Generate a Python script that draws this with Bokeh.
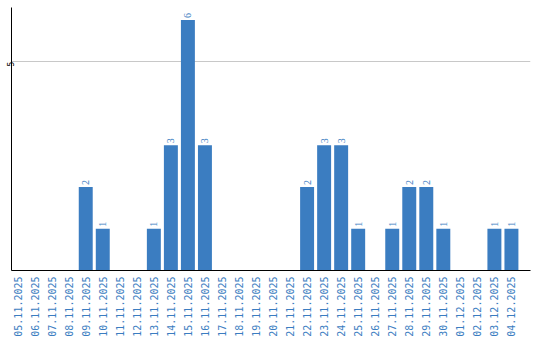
import math
from bokeh.plotting import figure
from bokeh.models import ColumnDataSource, FixedTicker, Range1d, LabelSet
from bokeh.embed import file_html
from bokeh.resources import INLINE

dates = ["05.11.2025", "06.11.2025", "07.11.2025", "08.11.2025", "09.11.2025",
         "10.11.2025", "11.11.2025", "12.11.2025", "13.11.2025", "14.11.2025",
         "15.11.2025", "16.11.2025", "17.11.2025", "18.11.2025", "19.11.2025",
         "20.11.2025", "21.11.2025", "22.11.2025", "23.11.2025", "24.11.2025",
         "25.11.2025", "26.11.2025", "27.11.2025", "28.11.2025", "29.11.2025",
         "30.11.2025", "01.12.2025", "02.12.2025", "03.12.2025", "04.12.2025"]
counts = [0, 0, 0, 0, 2, 1, 0, 0, 1, 3, 6, 3, 0, 0, 0, 0, 0, 2, 3, 3,
          1, 0, 1, 2, 2, 1, 0, 0, 1, 1]

BLUE = "#3b7dc1"

xs = [i + 0.5 for i in range(len(dates))]
src = ColumnDataSource(dict(x=xs, y=counts))
lab_x = [xs[i] for i in range(len(dates)) if counts[i] > 0]
lab_y = [counts[i] for i in range(len(dates)) if counts[i] > 0]
lab_src = ColumnDataSource(dict(x=lab_x, y=lab_y, t=[str(v) for v in lab_y]))

p = figure(width=540, height=340, output_backend="svg", toolbar_location=None,
           x_range=Range1d(0.14, 30.62), y_range=Range1d(0, 6.3),
           min_border_left=0, min_border_right=10, min_border_top=7,
           min_border_bottom=70)
p.outline_line_color = None

p.vbar(x="x", top="y", width=0.82, source=src, fill_color=BLUE, line_color=None)

labels = LabelSet(x="x", y="y", text="t", source=lab_src, angle=math.pi / 2,
                  text_align="left", text_baseline="middle", y_offset=2,
                  text_color=BLUE, text_font="DejaVu Sans Mono", text_font_size="10px")
p.add_layout(labels)

p.xaxis.ticker = FixedTicker(ticks=xs)
p.xaxis.major_label_overrides = {x: d for x, d in zip(xs, dates)}
p.xaxis.major_label_orientation = math.pi / 2
p.xaxis.major_label_text_color = BLUE
p.xaxis.major_label_text_font = "DejaVu Sans Mono"
p.xaxis.major_label_text_font_size = "10px"
p.xaxis.major_tick_line_color = None
p.xaxis.minor_tick_line_color = None
p.xaxis.major_tick_out = 0
p.xaxis.major_tick_in = 0
p.xaxis.minor_tick_out = 0
p.xaxis.major_label_standoff = 6
p.xaxis.axis_label_standoff = 0
p.xaxis.axis_line_color = "black"

p.yaxis.ticker = FixedTicker(ticks=[5])
p.yaxis.major_label_orientation = math.pi / 2
p.yaxis.major_label_text_font = "DejaVu Sans Mono"
p.yaxis.major_label_text_font_size = "8px"
p.yaxis.major_label_text_color = "black"
p.yaxis.major_tick_line_color = None
p.yaxis.minor_tick_line_color = None
p.yaxis.major_tick_out = 0
p.yaxis.major_tick_in = 0
p.yaxis.minor_tick_out = 0
p.yaxis.major_label_standoff = 1
p.yaxis.axis_label_standoff = 0
p.yaxis.axis_line_color = "black"

p.xgrid.grid_line_color = None
p.ygrid.grid_line_color = "#c8c8c8"
p.ygrid.ticker = FixedTicker(ticks=[5])

open("out.html", "w").write(file_html(p, INLINE))
